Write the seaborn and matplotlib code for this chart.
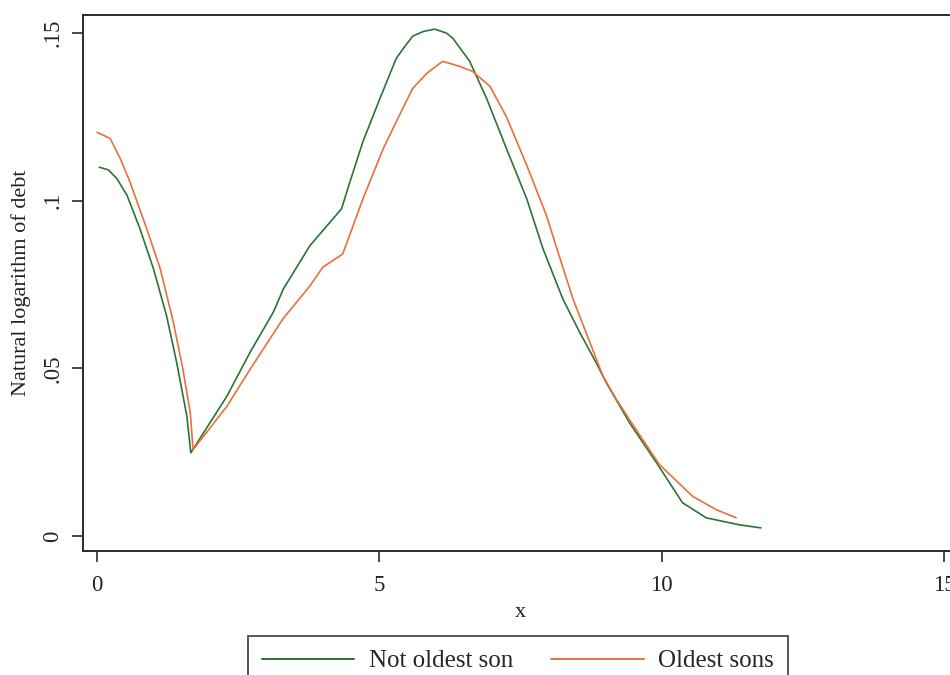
import numpy as np
import pandas as pd
import matplotlib
matplotlib.use("Agg")
import matplotlib.pyplot as plt
import seaborn as sns

# Smoothed debt profiles by birth order
not_oldest_x = [0.04, 0.20, 0.35, 0.53, 0.76, 1.00, 1.23, 1.41, 1.59, 1.66, 2.30,
                2.71, 3.12, 3.30, 3.77, 4.33, 4.48, 4.71, 5.01, 5.30, 5.45, 5.59,
                5.78, 5.98, 6.19, 6.30, 6.60, 6.90, 7.25, 7.61, 7.90, 8.25, 8.55,
                8.84, 9.02, 9.43, 9.91, 10.37, 10.79, 11.38, 11.76]
not_oldest_y = [0.1100, 0.1092, 0.1066, 0.1016, 0.0916, 0.0796, 0.0657, 0.0517,
                0.0357, 0.0248, 0.0417, 0.0548, 0.0667, 0.0737, 0.0866, 0.0976,
                0.1057, 0.1177, 0.1305, 0.1425, 0.1460, 0.1491, 0.1505, 0.1512,
                0.1500, 0.1485, 0.1416, 0.1305, 0.1156, 0.1006, 0.0856, 0.0707,
                0.0607, 0.0517, 0.0457, 0.0338, 0.0218, 0.0099, 0.0054, 0.0033,
                0.0024]

oldest_x = [0.00, 0.23, 0.41, 0.58, 0.88, 1.12, 1.35, 1.52, 1.65, 1.70, 2.30,
            2.71, 3.29, 3.77, 4.00, 4.35, 4.71, 5.07, 5.30, 5.59, 5.84, 6.12,
            6.42, 6.65, 6.96, 7.25, 7.61, 7.96, 8.12, 8.43, 8.73, 8.96, 9.20,
            9.43, 9.96, 10.55, 10.97, 11.32]
oldest_y = [0.1204, 0.1186, 0.1126, 0.1057, 0.0916, 0.0796, 0.0638, 0.0497,
            0.0368, 0.0257, 0.0387, 0.0497, 0.0647, 0.0746, 0.0802, 0.0841,
            0.1006, 0.1156, 0.1236, 0.1335, 0.1380, 0.1416, 0.1401, 0.1386,
            0.1341, 0.1251, 0.1106, 0.0956, 0.0870, 0.0707, 0.0577, 0.0477,
            0.0407, 0.0347, 0.0213, 0.0118, 0.0078, 0.0054]

group_labels = ["Not oldest son", "Oldest sons"]
line_colors = ["#2b7436", "#e8703a"]
x_ticks = [0, 5, 10, 15]
y_ticks = [0, 0.05, 0.10, 0.15]
y_tick_labels = ["0", ".05", ".1", ".15"]

df = pd.concat([
    pd.DataFrame({"x": not_oldest_x, "y": not_oldest_y, "group": group_labels[0]}),
    pd.DataFrame({"x": oldest_x, "y": oldest_y, "group": group_labels[1]}),
], ignore_index=True)

sns.set_theme(style="white")
plt.rcParams["font.family"] = ["Liberation Serif", "DejaVu Serif"]

fig = plt.figure(figsize=(9.5, 6.75), dpi=100)
ax = fig.add_axes([83 / 950, 1 - 551 / 675, 875 / 950, (551 - 14.7) / 675])

sns.lineplot(data=df, x="x", y="y", hue="group", hue_order=group_labels,
             palette=line_colors, estimator=None, sort=True, linewidth=1.2,
             ax=ax)

ax.set_xlim(-0.25, 15.25)
ax.set_ylim(-0.0045, 0.1555)
ax.set_xticks(x_ticks)
ax.set_xticklabels([str(t) for t in x_ticks])
ax.set_yticks(y_ticks)
ax.set_yticklabels(y_tick_labels, rotation=90, va="center")

for side in ["top", "bottom", "left", "right"]:
    ax.spines[side].set_color("#2b2b2b")
    ax.spines[side].set_linewidth(1.4)

ax.tick_params(axis="both", which="major", direction="out", length=8,
               width=1.2, color="#2b2b2b", labelsize=16.5, labelcolor="#222222",
               bottom=True, left=True)
ax.tick_params(axis="x", pad=9)
ax.tick_params(axis="y", pad=6)

ax.set_xlabel("x", fontsize=16, color="#222222", labelpad=5)
ax.set_ylabel("Natural logarithm of debt", fontsize=16, color="#222222",
              labelpad=8)

handles, labels = ax.get_legend_handles_labels()
ax.get_legend().remove()
leg = fig.legend(handles, labels, loc="upper center",
                 bbox_to_anchor=(518 / 950, 1 - 636 / 675), ncol=2,
                 fontsize=18, frameon=True, fancybox=False, handlelength=3.7,
                 handletextpad=0.6, columnspacing=1.5, borderpad=0.55,
                 borderaxespad=0)
leg.get_frame().set_edgecolor("#2b2b2b")
leg.get_frame().set_linewidth(1.4)
for line in leg.get_lines():
    line.set_linewidth(1.4)

fig.savefig("out.png", dpi=100, facecolor="white")
